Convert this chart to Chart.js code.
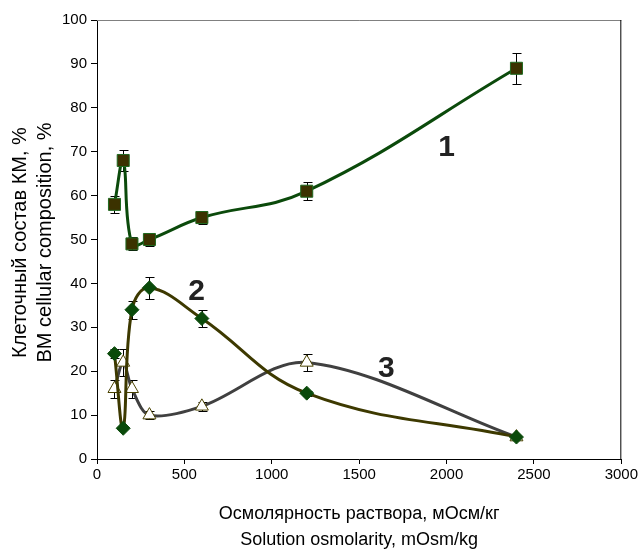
<!DOCTYPE html>
<html>
<head>
<meta charset="utf-8">
<script src="https://cdn.jsdelivr.net/npm/chart.js@4"></script>
<style>
  html, body { margin: 0; padding: 0; background: #fff; }
  #wrap { width: 640px; height: 551px; }
</style>
</head>
<body>
<div id="wrap"><canvas id="graph"></canvas></div>
<script>
// osmolarity, mOsm/kg
const osmolarity = [100, 150, 200, 300, 600, 1200, 2400];
// curve 1
const s1 = [58, 68, 49, 50, 55, 61, 89];
const e1 = [2, 2.5, 1.5, 1.5, 1.5, 2, 3.5];
// curve 2
const s2 = [24, 7, 34, 39, 32, 15, 5];
const e2 = [1, 0, 2, 2.5, 2, 0.6, 0];
// curve 3
const s3 = [16, 22, 16, 10, 12, 22, 5];
const e3 = [2, 3, 2, 1, 1, 2, 0];
const curveLabels = ['1', '2', '3'];
const labelPos = [[2000, 71], [570, 38], [1655, 20.5]];
const xTitle = ['Осмолярность раствора, мОсм/кг', 'Solution osmolarity, mOsm/kg'];
const yTitle = ['Клеточный состав КМ, %', 'BM cellular composition, %'];

const pts = (ys) => osmolarity.map((x, i) => ({ x: x, y: ys[i] }));
const errs = [e1, e2, e3];

const font = "'Liberation Sans', Arial, sans-serif";

const extras = {
  id: 'extras',
  beforeDatasetsDraw(chart) {
    // error bars under the markers
    const ctx = chart.ctx, xs = chart.scales.x, ys = chart.scales.y;
    ctx.save();
    ctx.strokeStyle = '#000';
    ctx.lineWidth = 1;
    chart.data.datasets.forEach((ds, d) => {
      ds.data.forEach((p, i) => {
        const e = errs[d][i];
        if (!e) return;
        const px = Math.round(xs.getPixelForValue(p.x)) + 0.5;
        const top = Math.round(ys.getPixelForValue(p.y + e)) + 0.5;
        const bot = Math.round(ys.getPixelForValue(p.y - e)) + 0.5;
        ctx.beginPath();
        ctx.moveTo(px, top); ctx.lineTo(px, bot);
        ctx.moveTo(px - 4, top); ctx.lineTo(px + 5, top);
        ctx.moveTo(px - 4, bot); ctx.lineTo(px + 5, bot);
        ctx.stroke();
      });
    });
    ctx.restore();
  },
  afterDraw(chart) {
    const ctx = chart.ctx, a = chart.chartArea, xs = chart.scales.x, ys = chart.scales.y;
    ctx.save();
    // frame top & right
    ctx.lineWidth = 1;
    ctx.strokeStyle = '#808080';
    ctx.beginPath(); ctx.moveTo(a.left, a.top + 0.5); ctx.lineTo(a.right, a.top + 0.5); ctx.stroke();
    ctx.strokeStyle = '#000';
    ctx.beginPath(); ctx.moveTo(a.right - 0.5, a.top); ctx.lineTo(a.right - 0.5, a.bottom); ctx.stroke();
    // curve numbers
    ctx.fillStyle = '#222';
    ctx.font = 'bold 30px ' + font;
    ctx.textAlign = 'center';
    ctx.textBaseline = 'middle';
    curveLabels.forEach((t, i) => {
      ctx.fillText(t, xs.getPixelForValue(labelPos[i][0]), ys.getPixelForValue(labelPos[i][1]));
    });
    // axis titles
    ctx.fillStyle = '#000';
    ctx.font = '18px ' + font;
    const cx = (a.left + a.right) / 2;
    ctx.fillText(xTitle[0], cx, a.bottom + 55);
    ctx.fillText(xTitle[1], cx, a.bottom + 81);
    ctx.font = '20px ' + font;
    const cy = (a.top + a.bottom) / 2 + 3;
    ctx.translate(0, cy);
    ctx.rotate(-Math.PI / 2);
    ctx.fillText(yTitle[0], 0, 20);
    ctx.fillText(yTitle[1], 0, 45);
    ctx.restore();
  }
};

new Chart(document.getElementById('graph'), {
  type: 'scatter',
  data: {
    datasets: [
      {
        data: pts(s1),
        showLine: true,
        borderColor: '#0b4a0b',
        borderWidth: 3,
        tension: 0.4,
        pointStyle: 'rect',
        pointRadius: 8.5,
        pointBackgroundColor: '#3b3200',
        pointBorderColor: '#1f6a1f',
        pointBorderWidth: 1
      },
      {
        data: pts(s2),
        showLine: true,
        borderColor: '#3d3900',
        borderWidth: 3,
        tension: 0.4,
        pointStyle: 'rectRot',
        pointRadius: 7,
        pointBackgroundColor: '#0a4a0a',
        pointBorderColor: '#0a4a0a',
        pointBorderWidth: 1
      },
      {
        data: pts(s3),
        showLine: true,
        borderColor: '#404040',
        borderWidth: 3,
        tension: 0.32,
        pointStyle: 'triangle',
        pointRadius: 7.5,
        pointBackgroundColor: '#ffffff',
        pointBorderColor: '#4a4200',
        pointBorderWidth: 1
      }
    ]
  },
  options: {
    responsive: true,
    maintainAspectRatio: false,
    animation: false,
    clip: false,
    layout: { padding: { top: 20, right: 15, left: 0, bottom: 0 } },
    plugins: { legend: { display: false }, tooltip: { enabled: false } },
    scales: {
      x: {
        type: 'linear',
        min: 0, max: 3000,
        afterFit(s) { s.height = 92; },
        ticks: { stepSize: 500, color: '#000', font: { family: font, size: 15 }, maxRotation: 0, padding: 2, callback: v => String(v) },
        grid: { drawOnChartArea: false, tickLength: 5, color: '#000' },
        border: { color: '#000', width: 1 }
      },
      y: {
        min: 0, max: 100,
        afterFit(s) { s.width = 97; },
        ticks: { stepSize: 10, color: '#000', font: { family: font, size: 15 }, padding: 4, callback: v => String(v) },
        grid: { drawOnChartArea: false, tickLength: 6, color: '#000' },
        border: { color: '#000', width: 1 }
      }
    }
  },
  plugins: [extras]
});
</script>
</body>
</html>
